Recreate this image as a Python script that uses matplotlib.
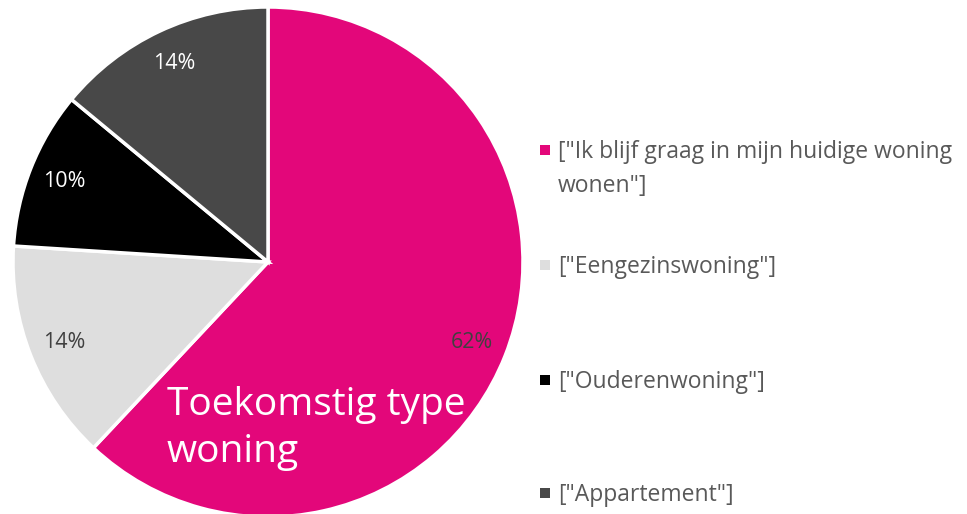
import matplotlib
matplotlib.use("Agg")
import matplotlib.pyplot as plt
from matplotlib.patches import Rectangle

plt.rcParams['font.family'] = ['Open Sans', 'DejaVu Sans']

# data
categories = ['["Ik blijf graag in mijn huidige woning\nwonen"]',
              '["Eengezinswoning"]',
              '["Ouderenwoning"]',
              '["Appartement"]']
values = [62, 14, 10, 14]
colors = ['#e3077a', '#dedede', '#000000', '#484848']
pct_colors = ['#404040', '#404040', '#ffffff', '#ffffff']
title = 'Toekomstig type\nwoning'

W, H = 967, 514
fig = plt.figure(figsize=(W / 100, H / 100), dpi=100)

# pie: centre (268, 262) px from top, radius 255 px
cx, cy, r = 268, H - 262, 255
ax = fig.add_axes([(cx - r) / W, (cy - r) / H, 2 * r / W, 2 * r / H])
wedges, texts, autotexts = ax.pie(values, colors=colors, startangle=90, counterclock=False,
                                  radius=1, autopct='%d%%', pctdistance=0.86,
                                  wedgeprops=dict(edgecolor='white', linewidth=2.5))
for t, c in zip(autotexts, pct_colors):
    t.set_color(c)
    t.set_fontsize(15.5)
ax.set_xlim(-1, 1)
ax.set_ylim(-1, 1)
ax.set_aspect('equal')
ax.axis('off')

# title over the pie
fig.text(167 / W, 1 - 386 / H, title, color='white', fontsize=28,
         ha='left', va='top', linespacing=1.3)

# legend, drawn by hand
ys = [150, 265, 380, 493]
for lab, col, y in zip(categories, colors, ys):
    fig.patches.append(Rectangle(((540) / W, 1 - (y + 5) / H), 10 / W, 10 / H,
                                 transform=fig.transFigure, facecolor=col, edgecolor='none'))
    fig.text(558 / W, 1 - (y - 10) / H, lab, color='#595959', fontsize=16.5,
             ha='left', va='top', linespacing=1.55)

fig.savefig('out.png', dpi=100)
